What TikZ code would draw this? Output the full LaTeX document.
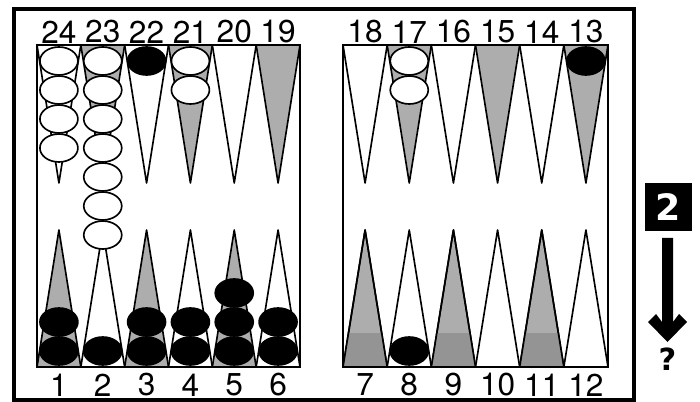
\documentclass[tikz,border=0pt]{standalone}
\usepackage{fontspec}
\setmainfont{TeX Gyre Heros}
\newfontfamily\diefont{DejaVu Sans}
\usetikzlibrary{positioning, shapes.geometric}

\begin{document}
\begin{tikzpicture}[x=0.03cm, y=-0.03cm,
    frame/.style={line width=3.4pt},
    board/.style={line width=1.8pt},
    plain point/.style={draw, line width=1.4pt, line join=round, fill=white},
    shaded point/.style={plain point, fill=black!32},
    man/.style={draw, line width=1.4pt},
    white man/.style={man, fill=white},
    black man/.style={man, fill=black},
    num/.style={font=\fontsize{27}{29}\selectfont, inner sep=0pt},
    die/.style={fill=black, text=white, minimum width=1.41cm, minimum height=1.44cm,
      font=\diefont\bfseries\fontsize{31}{33}\selectfont, inner sep=0pt},
    qmark/.style={font=\diefont\bfseries\fontsize{26}{28}\selectfont, inner sep=0pt}]
  \useasboundingbox (0,0) rectangle (700,402);
  \draw[frame] (14,9) rectangle (634,400);

  % points of both halves
  \foreach \bx/\bw [count=\h] in {37/43.833, 343/44.167} {
    \foreach \i in {1,...,6} {
      \pgfmathsetmacro\xl{\bx+(\i-1)*\bw}
      \pgfmathsetmacro\xm{\xl+\bw/2}
      \pgfmathsetmacro\xr{\xl+\bw}
      % top row
      \ifodd\i
        \path[plain point] (\xl,45) -- (\xm,183) -- (\xr,45) -- cycle;
        \path[shaded point] (\xl,367) -- (\xm,230) -- (\xr,367) -- cycle;
        \ifnum\h=2
          \begin{scope}
            \clip (\xl,367) -- (\xm,230) -- (\xr,367) -- cycle;
            \fill[black!42] (\xl,333) rectangle (\xr,367);
          \end{scope}
          \draw[line width=1.4pt, line join=round] (\xl,367) -- (\xm,230) -- (\xr,367);
        \fi
      \else
        \path[shaded point] (\xl,45) -- (\xm,183) -- (\xr,45) -- cycle;
        \path[plain point] (\xl,367) -- (\xm,230) -- (\xr,367) -- cycle;
      \fi
      % numbers
      \ifnum\h=1
        \pgfmathtruncatemacro\top{25-\i}
        \pgfmathtruncatemacro\bot{\i}
      \else
        \pgfmathtruncatemacro\top{19-\i}
        \pgfmathtruncatemacro\bot{\i+6}
      \fi
      \node[num] (n\top) at (\xm,32) {\top};
      \node[num] (n\bot) at (\xm,385) {\bot};
      \coordinate (p\top) at (\xm,61);
      \coordinate (p\bot) at (\xm,351);
    }
  }
  \draw[board] (37,45) rectangle (300,367);
  \draw[board] (343,45) rectangle (608,367);

  % checkers on the top points
  \foreach \p/\k/\c in {24/4/white, 23/7/white, 22/1/black, 21/2/white,
                        17/2/white, 13/1/black} {
    \foreach \j in {1,...,\k}
      \draw[\c\space man] ([yshift={-(\j-1)*0.87cm}]p\p) ellipse [x radius=0.57cm, y radius=0.42cm];
  }
  % checkers on the bottom points
  \foreach \p/\k in {1/2, 2/1, 3/2, 4/2, 5/3, 6/2, 8/1} {
    \foreach \j in {1,...,\k}
      \draw[black man] ([yshift={(\j-1)*0.87cm}]p\p) ellipse [x radius=0.57cm, y radius=0.42cm];
  }

  % die, move arrow and question
  \node[die] (roll) at (668.5,207) {2};
  \fill (662,238) -- (673,238) -- (673,322) -- (679,314) -- (687,322) -- (667.5,342)
    -- (648,322) -- (656,314) -- (662,322) -- cycle;
  \coordinate (tip) at (667.5,342);
  \node[qmark, below=0.18cm of tip] (ask) {?};
\end{tikzpicture}
\end{document}
